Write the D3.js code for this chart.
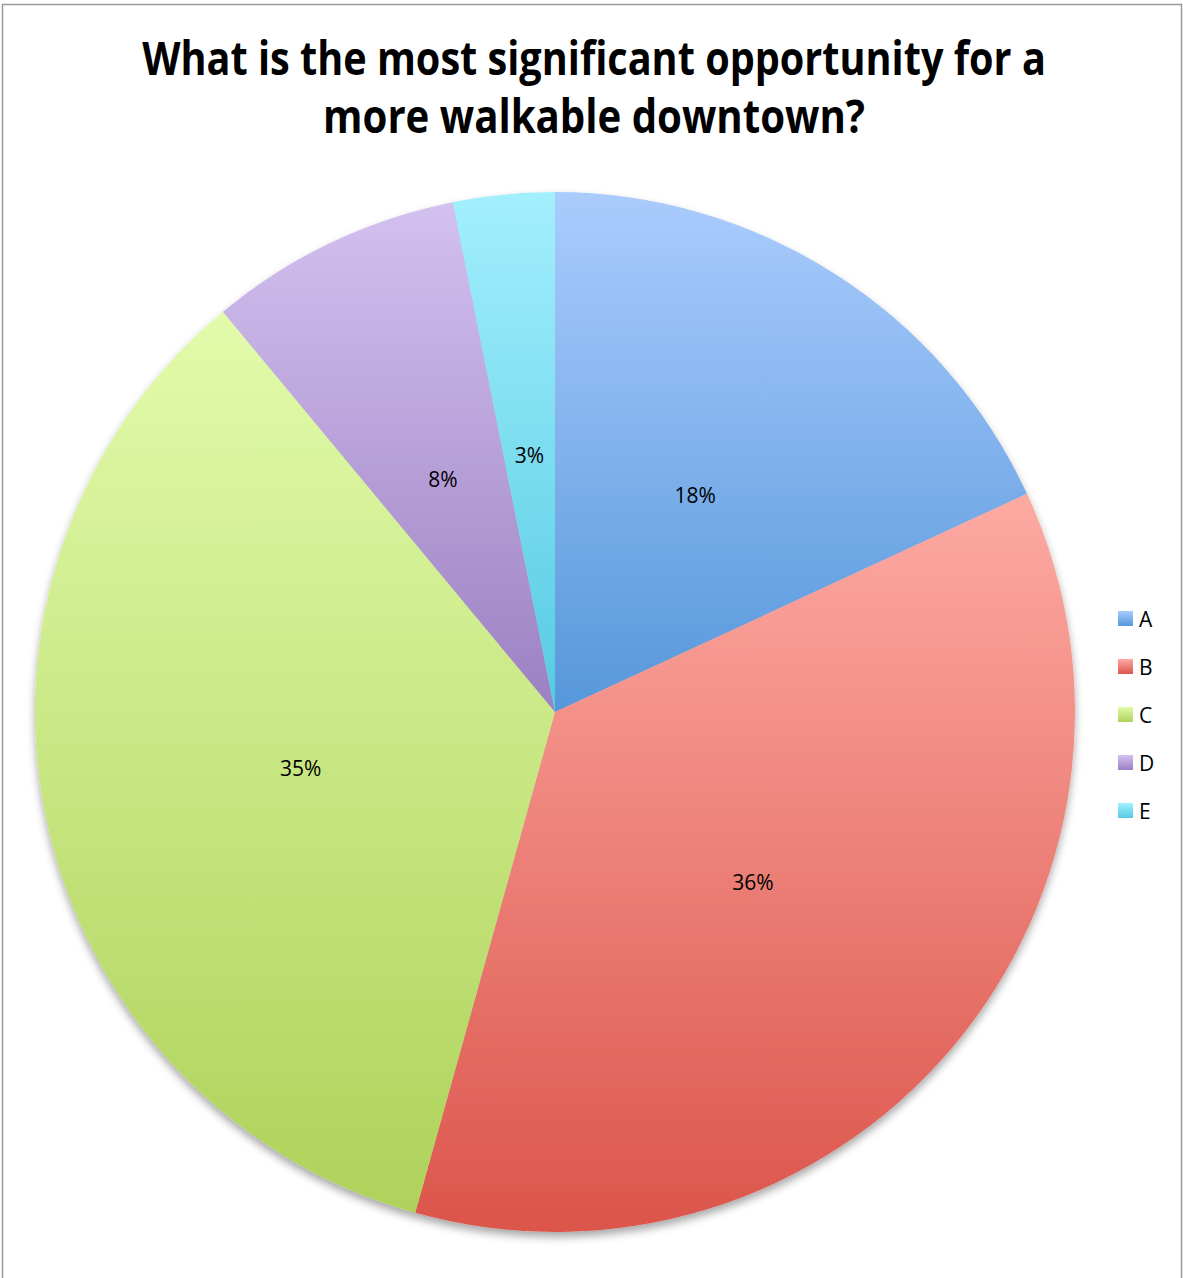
<!DOCTYPE html>
<html><head><meta charset="utf-8">
<script src="https://cdn.jsdelivr.net/npm/d3@7"></script>
<style>body{margin:0;background:#fff;}</style>
</head><body>
<svg id="chart" width="1183" height="1278"></svg>
<script>
const categories = ["A","B","C","D","E"];
const values = [23, 46, 44, 10, 4];
const topColors = ["#aaccfd","#fdaaa3","#e2fbab","#d3c1ef","#a3effd"];
const bottomColors = ["#5697db","#db554b","#aed25a","#9b80c2","#55cbe3"];
const titleLines = ["What is the most significant opportunity for a","more walkable downtown?"];

const svg = d3.select("#chart");
svg.append("rect").attr("x",2.5).attr("y",4.5).attr("width",1179).attr("height",1290)
  .attr("fill","#fff").attr("stroke","#999").attr("stroke-width",1.5);

const defs = svg.append("defs");
categories.forEach((c,i)=>{
  const g = defs.append("linearGradient").attr("id","g"+i).attr("x1",0).attr("y1",0).attr("x2",0).attr("y2",1);
  g.append("stop").attr("offset","0%").attr("stop-color",topColors[i]);
  g.append("stop").attr("offset","100%").attr("stop-color",bottomColors[i]);
});
const f = defs.append("filter").attr("id","sh").attr("x","-10%").attr("y","-10%").attr("width","120%").attr("height","125%");
f.append("feDropShadow").attr("dx",0).attr("dy",5).attr("stdDeviation",4).attr("flood-color","#000").attr("flood-opacity",0.35);

// title, horizontally scaled to match the reference widths
const title = svg.append("g").attr("font-family","'Open Sans', 'Noto Sans', sans-serif").attr("font-weight","bold")
  .attr("text-anchor","middle").attr("fill","#000");
[[titleLines[0],75,904],[titleLines[1],133,542]].forEach(([t,y,w])=>{
  const tx = title.append("text").attr("x",0).attr("y",0).attr("font-size",46).text(t);
  const nat = tx.node().getComputedTextLength();
  tx.attr("transform",`translate(594,${y}) scale(${w/nat},1)`);
});

const cx = 555, cy = 712, R = 520;
const total = d3.sum(values);
const pie = d3.pie().sort(null).value(d=>d);
const arcs = pie(values);
const arc = d3.arc().innerRadius(0).outerRadius(R);
const g = svg.append("g").attr("transform",`translate(${cx},${cy})`);
const slices = g.append("g").attr("filter","url(#sh)");
slices.selectAll("path").data(arcs).enter().append("path")
  .attr("d",arc).attr("fill",(d,i)=>`url(#g${i})`);

g.selectAll("text.lbl").data(arcs).enter().append("text").attr("class","lbl")
  .attr("x",d=>arc.centroid(d)[0]).attr("y",d=>arc.centroid(d)[1]+10)
  .attr("text-anchor","middle").attr("font-family","'Open Sans', 'Noto Sans', sans-serif")
  .attr("font-size",21).attr("fill","#000").text(d=>Math.round(d.value/total*100)+"%");

// legend
const lg = svg.append("g").attr("font-family","'Open Sans', 'Noto Sans', sans-serif");
const ly = d3.scalePoint().domain(categories).range([619,811]);
categories.forEach((c,i)=>{
  lg.append("rect").attr("x",1118).attr("y",ly(c)-8).attr("width",15).attr("height",15).attr("fill",`url(#g${i})`);
  lg.append("text").attr("x",1139).attr("y",ly(c)+8).attr("font-size",21).attr("fill","#000").text(c);
});
</script>
</body></html>
